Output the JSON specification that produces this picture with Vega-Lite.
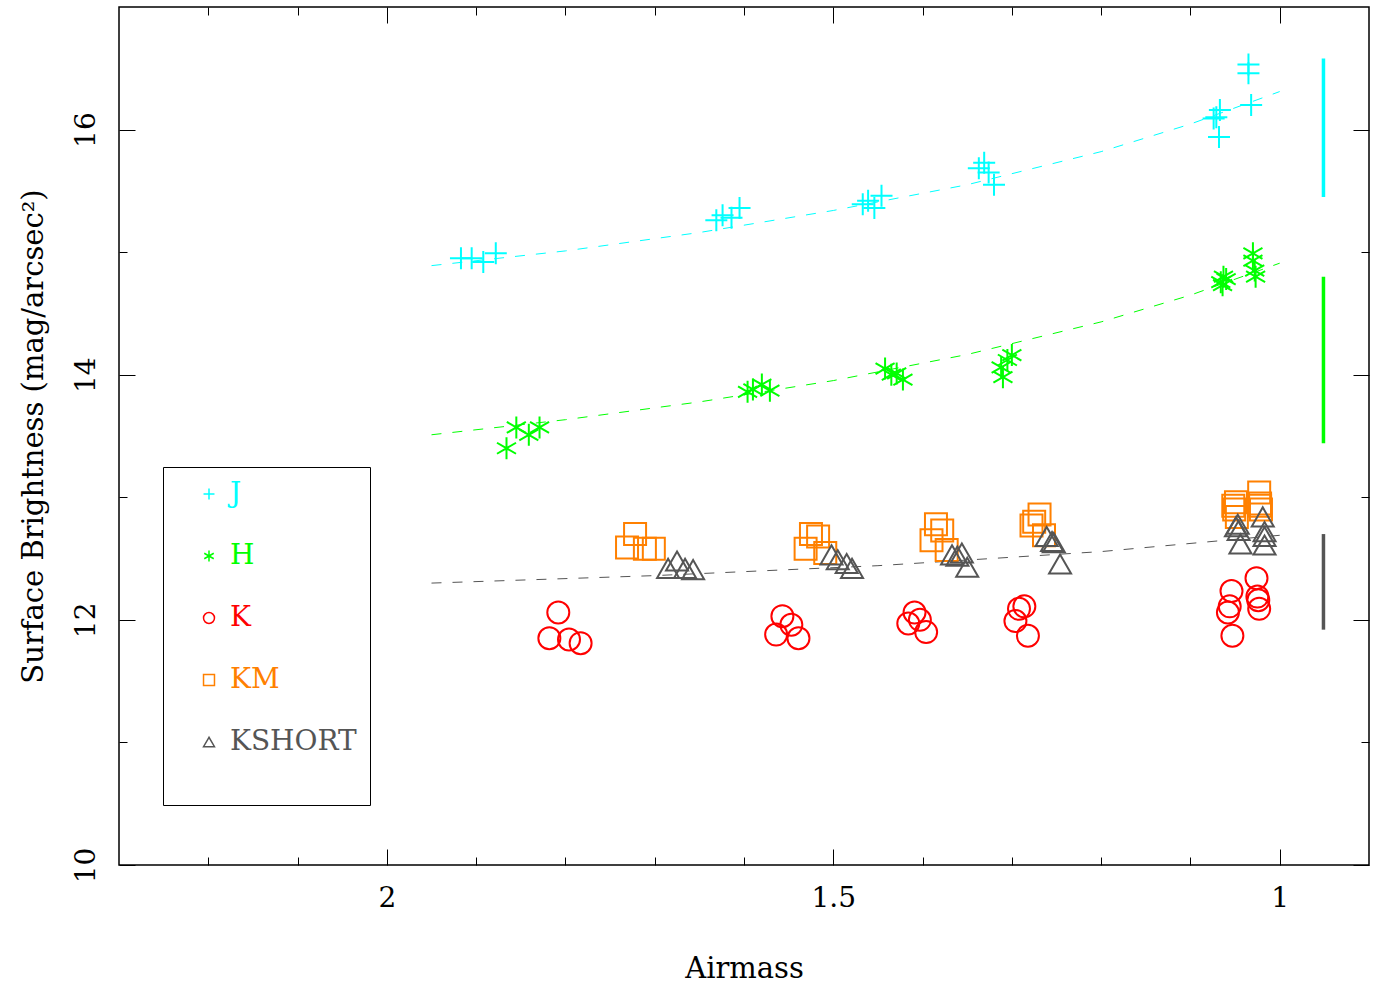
{
  "$schema": "https://vega.github.io/schema/vega-lite/v6.json",
  "autosize": "none",
  "width": 1250,
  "height": 858,
  "padding": {"left": 119, "top": 7, "right": 7, "bottom": 118},
  "background": "white",
  "config": {
    "view": {"stroke": "black", "strokeWidth": 1.5},
    "axis": {
      "grid": false, "domain": false, "tickColor": "black", "tickWidth": 1,
      "labelFont": "DejaVu Serif", "labelFontSize": 28, "labelColor": "black",
      "titleFont": "DejaVu Serif", "titleFontSize": 29, "titleFontWeight": "normal", "titleColor": "black",
      "labelFlush": false, "labelOverlap": false, "format": "~g"
    }
  },
  "datasets": {
    "points": [
      {"band": "J", "airmass": 1.917, "mag": 14.95}, {"band": "J", "airmass": 1.905, "mag": 14.95}, {"band": "J", "airmass": 1.892, "mag": 14.92}, {"band": "J", "airmass": 1.878, "mag": 14.99},
      {"band": "J", "airmass": 1.631, "mag": 15.26}, {"band": "J", "airmass": 1.624, "mag": 15.30}, {"band": "J", "airmass": 1.614, "mag": 15.28}, {"band": "J", "airmass": 1.605, "mag": 15.36},
      {"band": "J", "airmass": 1.467, "mag": 15.39}, {"band": "J", "airmass": 1.461, "mag": 15.42}, {"band": "J", "airmass": 1.454, "mag": 15.36}, {"band": "J", "airmass": 1.446, "mag": 15.46},
      {"band": "J", "airmass": 1.337, "mag": 15.685}, {"band": "J", "airmass": 1.331, "mag": 15.73}, {"band": "J", "airmass": 1.326, "mag": 15.65}, {"band": "J", "airmass": 1.320, "mag": 15.55},
      {"band": "J", "airmass": 1.074, "mag": 16.09}, {"band": "J", "airmass": 1.067, "mag": 16.16}, {"band": "J", "airmass": 1.071, "mag": 16.10}, {"band": "J", "airmass": 1.068, "mag": 15.94},
      {"band": "J", "airmass": 1.035, "mag": 16.53}, {"band": "J", "airmass": 1.035, "mag": 16.46}, {"band": "J", "airmass": 1.032, "mag": 16.20},
      {"band": "H", "airmass": 1.866, "mag": 13.40}, {"band": "H", "airmass": 1.855, "mag": 13.57}, {"band": "H", "airmass": 1.841, "mag": 13.51}, {"band": "H", "airmass": 1.829, "mag": 13.57},
      {"band": "H", "airmass": 1.596, "mag": 13.86}, {"band": "H", "airmass": 1.590, "mag": 13.88}, {"band": "H", "airmass": 1.580, "mag": 13.92}, {"band": "H", "airmass": 1.571, "mag": 13.87},
      {"band": "H", "airmass": 1.442, "mag": 14.05}, {"band": "H", "airmass": 1.435, "mag": 14.00}, {"band": "H", "airmass": 1.429, "mag": 14.01}, {"band": "H", "airmass": 1.422, "mag": 13.96},
      {"band": "H", "airmass": 1.312, "mag": 14.06}, {"band": "H", "airmass": 1.310, "mag": 13.98}, {"band": "H", "airmass": 1.305, "mag": 14.12}, {"band": "H", "airmass": 1.300, "mag": 14.16},
      {"band": "H", "airmass": 1.066, "mag": 14.755}, {"band": "H", "airmass": 1.063, "mag": 14.80}, {"band": "H", "airmass": 1.060, "mag": 14.78}, {"band": "H", "airmass": 1.064, "mag": 14.73},
      {"band": "H", "airmass": 1.030, "mag": 14.99}, {"band": "H", "airmass": 1.030, "mag": 14.93}, {"band": "H", "airmass": 1.028, "mag": 14.85}, {"band": "H", "airmass": 1.027, "mag": 14.80},
      {"band": "K", "airmass": 1.808, "mag": 12.06}, {"band": "K", "airmass": 1.818, "mag": 11.85}, {"band": "K", "airmass": 1.796, "mag": 11.84}, {"band": "K", "airmass": 1.783, "mag": 11.81},
      {"band": "K", "airmass": 1.557, "mag": 12.03}, {"band": "K", "airmass": 1.547, "mag": 11.96}, {"band": "K", "airmass": 1.564, "mag": 11.88}, {"band": "K", "airmass": 1.539, "mag": 11.85},
      {"band": "K", "airmass": 1.409, "mag": 12.06}, {"band": "K", "airmass": 1.403, "mag": 12.00}, {"band": "K", "airmass": 1.416, "mag": 11.97}, {"band": "K", "airmass": 1.396, "mag": 11.90},
      {"band": "K", "airmass": 1.286, "mag": 12.11}, {"band": "K", "airmass": 1.292, "mag": 12.09}, {"band": "K", "airmass": 1.296, "mag": 11.99}, {"band": "K", "airmass": 1.282, "mag": 11.87},
      {"band": "K", "airmass": 1.054, "mag": 12.235}, {"band": "K", "airmass": 1.056, "mag": 12.11}, {"band": "K", "airmass": 1.058, "mag": 12.06}, {"band": "K", "airmass": 1.053, "mag": 11.87},
      {"band": "K", "airmass": 1.026, "mag": 12.34}, {"band": "K", "airmass": 1.025, "mag": 12.19}, {"band": "K", "airmass": 1.024, "mag": 12.16}, {"band": "K", "airmass": 1.023, "mag": 12.09},
      {"band": "KM", "airmass": 1.722, "mag": 12.70}, {"band": "KM", "airmass": 1.731, "mag": 12.59}, {"band": "KM", "airmass": 1.711, "mag": 12.58}, {"band": "KM", "airmass": 1.701, "mag": 12.58},
      {"band": "KM", "airmass": 1.525, "mag": 12.70}, {"band": "KM", "airmass": 1.517, "mag": 12.68}, {"band": "KM", "airmass": 1.531, "mag": 12.58}, {"band": "KM", "airmass": 1.509, "mag": 12.545},
      {"band": "KM", "airmass": 1.385, "mag": 12.78}, {"band": "KM", "airmass": 1.378, "mag": 12.73}, {"band": "KM", "airmass": 1.390, "mag": 12.65}, {"band": "KM", "airmass": 1.373, "mag": 12.57},
      {"band": "KM", "airmass": 1.269, "mag": 12.86}, {"band": "KM", "airmass": 1.275, "mag": 12.80}, {"band": "KM", "airmass": 1.278, "mag": 12.77}, {"band": "KM", "airmass": 1.264, "mag": 12.69},
      {"band": "KM", "airmass": 1.049, "mag": 12.96}, {"band": "KM", "airmass": 1.052, "mag": 12.93}, {"band": "KM", "airmass": 1.051, "mag": 12.90}, {"band": "KM", "airmass": 1.048, "mag": 12.84},
      {"band": "KM", "airmass": 1.023, "mag": 13.04}, {"band": "KM", "airmass": 1.022, "mag": 12.95}, {"band": "KM", "airmass": 1.021, "mag": 12.90}, {"band": "KM", "airmass": 1.022, "mag": 12.93},
      {"band": "KSHORT", "airmass": 1.685, "mag": 12.42}, {"band": "KSHORT", "airmass": 1.675, "mag": 12.48}, {"band": "KSHORT", "airmass": 1.666, "mag": 12.42}, {"band": "KSHORT", "airmass": 1.657, "mag": 12.41},
      {"band": "KSHORT", "airmass": 1.502, "mag": 12.53}, {"band": "KSHORT", "airmass": 1.495, "mag": 12.49}, {"band": "KSHORT", "airmass": 1.485, "mag": 12.46}, {"band": "KSHORT", "airmass": 1.479, "mag": 12.42},
      {"band": "KSHORT", "airmass": 1.367, "mag": 12.53}, {"band": "KSHORT", "airmass": 1.361, "mag": 12.52}, {"band": "KSHORT", "airmass": 1.356, "mag": 12.545}, {"band": "KSHORT", "airmass": 1.350, "mag": 12.43},
      {"band": "KSHORT", "airmass": 1.261, "mag": 12.68}, {"band": "KSHORT", "airmass": 1.255, "mag": 12.64}, {"band": "KSHORT", "airmass": 1.253, "mag": 12.63}, {"band": "KSHORT", "airmass": 1.246, "mag": 12.455},
      {"band": "KSHORT", "airmass": 1.047, "mag": 12.78}, {"band": "KSHORT", "airmass": 1.049, "mag": 12.76}, {"band": "KSHORT", "airmass": 1.044, "mag": 12.62}, {"band": "KSHORT", "airmass": 1.046, "mag": 12.73},
      {"band": "KSHORT", "airmass": 1.019, "mag": 12.84}, {"band": "KSHORT", "airmass": 1.017, "mag": 12.72}, {"band": "KSHORT", "airmass": 1.017, "mag": 12.68}, {"band": "KSHORT", "airmass": 1.017, "mag": 12.61}
    ],
    "fits": [
      {"band": "J", "airmass": 1.95, "mag": 14.89}, {"band": "J", "airmass": 1.8, "mag": 15.01}, {"band": "J", "airmass": 1.65, "mag": 15.16}, {"band": "J", "airmass": 1.5, "mag": 15.34},
      {"band": "J", "airmass": 1.35, "mag": 15.55}, {"band": "J", "airmass": 1.2, "mag": 15.82}, {"band": "J", "airmass": 1.1, "mag": 16.045}, {"band": "J", "airmass": 1.0, "mag": 16.31},
      {"band": "H", "airmass": 1.95, "mag": 13.51}, {"band": "H", "airmass": 1.8, "mag": 13.633}, {"band": "H", "airmass": 1.65, "mag": 13.778}, {"band": "H", "airmass": 1.5, "mag": 13.952},
      {"band": "H", "airmass": 1.35, "mag": 14.165}, {"band": "H", "airmass": 1.2, "mag": 14.431}, {"band": "H", "airmass": 1.1, "mag": 14.649}, {"band": "H", "airmass": 1.0, "mag": 14.91}
    ],
    "kfit": [
      {"band": "KSHORT", "airmass": 1.95, "mag": 12.30}, {"band": "KSHORT", "airmass": 1.7, "mag": 12.361}, {"band": "KSHORT", "airmass": 1.45, "mag": 12.442},
      {"band": "KSHORT", "airmass": 1.2, "mag": 12.557}, {"band": "KSHORT", "airmass": 1.0, "mag": 12.69}
    ],
    "bars": [
      {"band": "J", "airmass": 0.951, "low": 15.45, "high": 16.58},
      {"band": "H", "airmass": 0.951, "low": 13.44, "high": 14.80},
      {"band": "KSHORT", "airmass": 0.951, "low": 11.92, "high": 12.70}
    ]
  },
  "resolve": {"axis": {"x": "independent", "y": "independent"}},
  "layer": [
    {
      "data": {"name": "fits"},
      "mark": {"type": "line", "strokeWidth": 1, "strokeDash": [10, 11], "clip": true},
      "encoding": {
        "x": {"field": "airmass", "type": "quantitative", "scale": {"domain": [0.9, 2.3], "reverse": true, "nice": false, "zero": false},
              "axis": {"orient": "top", "values": [2, 1.5, 1], "tickSize": -16, "labels": false, "title": null}},
        "y": {"field": "mag", "type": "quantitative", "scale": {"domain": [10, 17], "nice": false, "zero": false},
              "axis": {"orient": "right", "values": [10, 12, 14, 16], "tickSize": -16, "labels": false, "title": null}},
        "stroke": {"field": "band", "type": "nominal", "legend": null,
                   "scale": {"domain": ["J", "H", "KSHORT"], "range": ["#00ffff", "#00ff00", "#555555"]}}
      }
    },
    {
      "data": {"name": "kfit"},
      "mark": {"type": "line", "strokeWidth": 1, "strokeDash": [10, 11], "clip": true},
      "encoding": {
        "x": {"field": "airmass", "type": "quantitative",
              "axis": {"orient": "top", "values": [2.2, 2.1, 1.9, 1.8, 1.7, 1.6, 1.4, 1.3, 1.2, 1.1], "tickSize": -8, "labels": false, "title": null}},
        "y": {"field": "mag", "type": "quantitative",
              "axis": {"orient": "right", "values": [11, 13, 15], "tickSize": -8, "labels": false, "title": null}},
        "stroke": {"field": "band", "type": "nominal", "legend": null}
      }
    },
    {
      "data": {"name": "bars"},
      "mark": {"type": "rule", "strokeWidth": 3.5},
      "encoding": {
        "x": {"field": "airmass", "type": "quantitative",
              "axis": {"orient": "bottom", "values": [2.2, 2.1, 1.9, 1.8, 1.7, 1.6, 1.4, 1.3, 1.2, 1.1], "tickSize": -8, "labels": false, "title": null}},
        "y": {"field": "low", "type": "quantitative",
              "axis": {"orient": "left", "values": [11, 13, 15], "tickSize": -8, "labels": false, "title": null}},
        "y2": {"field": "high"},
        "stroke": {"field": "band", "type": "nominal", "legend": null}
      }
    },
    {
      "data": {"name": "points"},
      "mark": {"type": "point", "filled": false, "strokeWidth": 2, "size": 484, "opacity": 1},
      "encoding": {
        "x": {"field": "airmass", "type": "quantitative",
              "axis": {"orient": "bottom", "values": [2, 1.5, 1], "tickSize": -16, "labelPadding": 35, "title": "Airmass", "titlePadding": 42}},
        "y": {"field": "mag", "type": "quantitative",
              "axis": {"orient": "left", "values": [10, 12, 14, 16], "tickSize": -16, "labelAngle": 270, "labelAlign": "center", "labelBaseline": "bottom", "labelPadding": 35, "title": "Surface Brightness (mag/arcsec²)", "titlePadding": 24}},
        "color": {"field": "band", "type": "nominal",
                  "scale": {"domain": ["J", "H", "K", "KM", "KSHORT"], "range": ["#00ffff", "#00ff00", "#ff0000", "#ff8000", "#555555"]},
                  "legend": {
                    "orient": "none", "legendX": 44, "legendY": 460,
                    "title": "\u00a0\u00a0\u00a0\u00a0\u00a0\u00a0\u00a0\u00a0\u00a0\u00a0\u00a0\u00a0\u00a0\u00a0\u00a0\u00a0\u00a0\u00a0\u00a0\u00a0\u00a0\u00a0", "titleOrient": "bottom", "titleFont": "DejaVu Serif", "titleFontSize": 28, "titlePadding": 8, "titleLimit": 500,
                    "padding": 13, "strokeColor": "black", "fillColor": "white",
                    "symbolSize": 120, "symbolStrokeWidth": 1.5, "symbolOffset": 19, "labelOffset": 7,
                    "labelFont": "DejaVu Serif", "labelFontSize": 28, "rowPadding": 34, "labelLimit": 400,
                    "labelExpr": "datum.label + '\u00a0\u00a0'",
                    "labelColor": {"expr": "datum.value === 'J' ? '#00ffff' : datum.value === 'H' ? '#00ff00' : datum.value === 'K' ? '#ff0000' : datum.value === 'KM' ? '#ff8000' : '#555555'"}
                  }},
        "shape": {"field": "band", "type": "nominal",
                  "scale": {"domain": ["J", "H", "K", "KM", "KSHORT"],
                            "range": ["M-1,0H1M0,-1V1", "M0,-1V1M-0.866,-0.5L0.866,0.5M-0.866,0.5L0.866,-0.5", "circle", "square", "triangle-up"]}}
      }
    }
  ]
}
